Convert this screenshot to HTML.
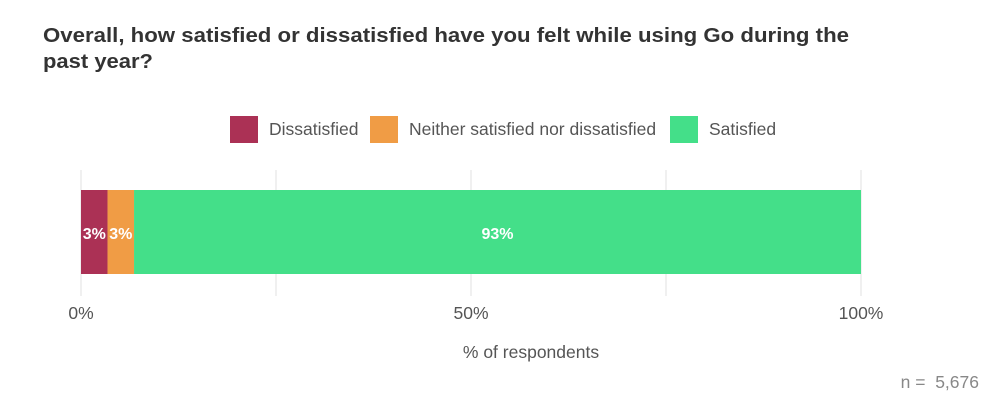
<!DOCTYPE html>
<html><head><meta charset="utf-8"><style>
body{margin:0;background:#fff;font-family:"Liberation Sans",sans-serif;}
svg{display:block}
</style></head><body>
<svg width="1005" height="409">
<text x="43" y="42" font-size="20.5" font-weight="bold" fill="#333" textLength="806" lengthAdjust="spacingAndGlyphs">Overall, how satisfied or dissatisfied have you felt while using Go during the</text>
<text x="43" y="68" font-size="20.5" font-weight="bold" fill="#333" textLength="110" lengthAdjust="spacingAndGlyphs">past year?</text>
<g id="legend"></g>
<g id="grid"></g>
<g id="bars"></g>
<g id="ticks"></g>
<text x="531" y="358" font-size="17.5" fill="#555" text-anchor="middle">% of respondents</text>
<text x="979" y="388" font-size="17.5" fill="#888" text-anchor="end" xml:space="preserve">n =  5,676</text>
</svg>
<script>
const categories=["Dissatisfied","Neither satisfied nor dissatisfied","Satisfied"];
const values=[3.4,3.4,93.2];
const labels=["3%","3%","93%"];
const colors=["#ab3155","#f09c45","#44df89"];
const tickValues=[0,25,50,75,100];
const tickLabels=["0%","","50%","","100%"];
const NS="http://www.w3.org/2000/svg";
const x0=81,x1=861;
const xs=v=>x0+(x1-x0)*v/100;
function mk(t,a,p){const e=document.createElementNS(NS,t);for(const k in a)e.setAttribute(k,a[k]);p.appendChild(e);return e;}
const grid=document.getElementById('grid'),ticks=document.getElementById('ticks'),bars=document.getElementById('bars'),legend=document.getElementById('legend');
tickValues.forEach((v,i)=>{
  const l=mk('line',{x1:xs(v),x2:xs(v),y1:170,y2:296,stroke:'#ebebeb','stroke-width':1.5},grid);
  
  
  if(tickLabels[i]){const t=mk('text',{x:xs(v),y:319,'font-size':17.5,fill:'#555','text-anchor':'middle'},ticks);t.textContent=tickLabels[i];
  
  }
});
let cum=0;
values.forEach((v,i)=>{
  const r=mk('rect',{x:xs(cum),y:190,width:xs(cum+v)-xs(cum),height:84,fill:colors[i]},bars);
  
  
  const t=mk('text',{x:xs(cum+v/2),y:239,'font-size':16,'font-weight':'bold',fill:'#fff','text-anchor':'middle'},bars);
  t.textContent=labels[i];
  
  
  cum+=v;
});
const lx=[230,370,670];
categories.forEach((c,i)=>{
  const r=mk('rect',{x:lx[i],y:116,width:28,height:27,fill:colors[i]},legend);
  
  
  const t=mk('text',{x:lx[i]+39,y:135,'font-size':17.5,fill:'#555'},legend);
  t.textContent=c;
  
  
});
</script>
</body></html>
